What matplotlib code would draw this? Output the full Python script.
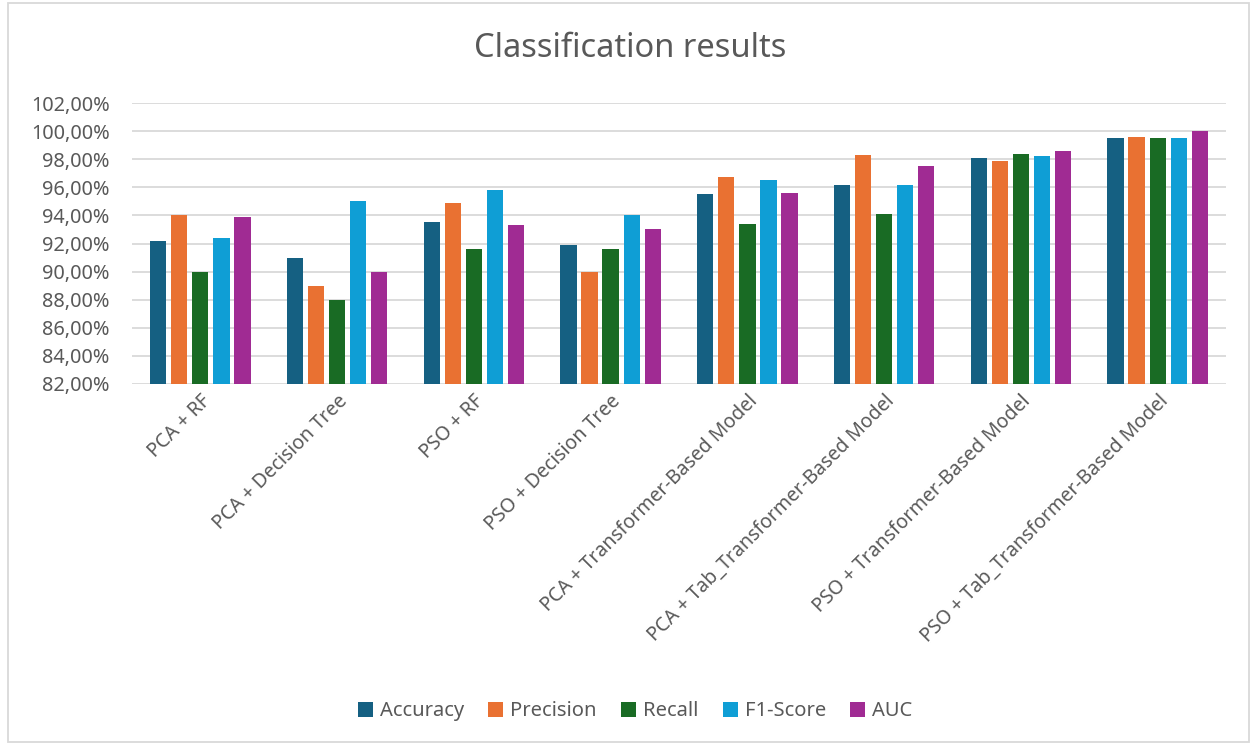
import numpy as np
import matplotlib
matplotlib.use("Agg")
import matplotlib.pyplot as plt
from matplotlib.patches import Rectangle
from matplotlib.ticker import FuncFormatter

plt.rcParams["font.family"] = ["Noto Sans", "DejaVu Sans"]

models = [
    "PCA + RF",
    "PCA + Decision Tree",
    "PSO + RF",
    "PSO + Decision Tree",
    "PCA + Transformer-Based Model",
    "PCA + Tab_Transformer-Based Model",
    "PSO + Transformer-Based Model",
    "PSO + Tab_Transformer-Based Model",
]
metrics = ["Accuracy", "Precision", "Recall", "F1-Score", "AUC"]

accuracy = [92.2, 91.0, 93.5, 91.9, 95.5, 96.2, 98.1, 99.5]
precision = [94.0, 89.0, 94.9, 90.0, 96.7, 98.3, 97.9, 99.6]
recall = [90.0, 88.0, 91.6, 91.6, 93.4, 94.1, 98.4, 99.5]
f1_score = [92.4, 95.0, 95.8, 94.0, 96.5, 96.2, 98.2, 99.5]
auc = [93.9, 90.0, 93.3, 93.0, 95.6, 97.5, 98.6, 100.0]

colors = ["#156082", "#E97132", "#196B24", "#0F9ED5", "#A02B93"]
text_color = "#595959"
grid_color = "#D9D9D9"

series = [accuracy, precision, recall, f1_score, auc]

fig = plt.figure(figsize=(12.53, 7.45), dpi=100)
ax = fig.add_axes([0.1053, 0.4846, 0.8732, 0.3771])

x = np.arange(len(models))
pitch = 0.154
width = 0.119
for i, (name, vals) in enumerate(zip(metrics, series)):
    offset = (i - 2) * pitch
    ax.bar(x + offset, vals, width=width, color=colors[i], label=name, zorder=3)

ax.set_xlim(-0.5, len(models) - 0.5)
ax.set_ylim(82, 102)
ax.set_yticks(np.arange(82, 102.1, 2))
ax.yaxis.set_major_formatter(FuncFormatter(lambda v, p: f"{v:.2f}".replace(".", ",") + "%"))
ax.grid(axis="y", color=grid_color, linewidth=1.3, zorder=0)
for s in ax.spines.values():
    s.set_visible(False)
ax.tick_params(axis="both", length=0, colors=text_color)
ax.tick_params(axis="y", pad=16, labelsize=14.3)
ax.tick_params(axis="x", pad=5, labelsize=14)
ax.set_xticks(x)
ax.set_xticklabels(models, rotation=45, ha="right", rotation_mode="anchor")

fig.text(0.503, 0.935, "Classification results", ha="center", va="center",
         fontsize=23.5, color=text_color)

handles, labels = ax.get_legend_handles_labels()
leg = fig.legend(handles, labels, loc="center", bbox_to_anchor=(0.507, 0.045),
                 ncol=5, frameon=False, fontsize=14.5, handlelength=0.75,
                 handleheight=0.75, handletextpad=0.35, columnspacing=1.2)
for t in leg.get_texts():
    t.set_color(text_color)

fig.patches.append(Rectangle((0.0065, 0.004), 0.99, 0.992, transform=fig.transFigure,
                             fill=False, edgecolor=grid_color, linewidth=1.3))

fig.savefig("out.png", dpi=100)
